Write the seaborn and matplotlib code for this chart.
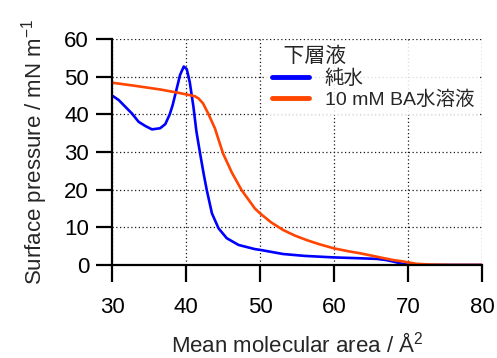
import pandas as pd
import numpy as np
import matplotlib.pyplot as plt
import seaborn as sns

water_area = [30.0, 30.9, 31.8, 32.7, 33.6, 34.5, 35.4, 36.5, 37.2, 37.8, 38.2, 38.7,
              39.2, 39.7, 40.1, 40.5, 41.0, 41.4, 41.9, 42.4, 42.8, 43.5, 44.4, 45.5,
              47.1, 49.3, 50.0, 53.1, 56.0, 59.9, 63.0, 65.8, 67.0, 68.0, 69.0, 69.8,
              71.0, 80.0]
water_pi = [45.0, 43.8, 42.0, 40.2, 38.0, 36.9, 36.0, 36.3, 37.4, 40.0, 42.5, 46.5,
            50.5, 52.7, 52.0, 48.6, 42.0, 35.5, 29.6, 24.0, 19.9, 13.7, 9.7, 7.1,
            5.3, 4.2, 4.0, 2.9, 2.4, 2.0, 1.8, 1.6, 1.3, 0.9, 0.4, 0.1,
            0.0, 0.0]

ba_area = [30.0, 33.0, 36.5, 39.0, 40.5, 41.2, 41.7, 42.3, 43.0, 43.9, 45.0, 46.2,
           47.5, 49.3, 50.0, 51.5, 53.1, 54.7, 56.3, 58.0, 60.0, 62.0, 63.5, 65.0,
           66.7, 68.0, 69.4, 71.1, 73.0, 76.0, 80.0]
ba_pi = [48.4, 47.6, 46.6, 45.7, 45.1, 44.8, 44.2, 42.9, 40.2, 36.3, 29.6, 24.5,
         19.9, 15.0, 13.7, 11.3, 9.3, 7.8, 6.6, 5.5, 4.4, 3.6, 3.1, 2.5,
         1.8, 1.3, 0.9, 0.3, 0.1, 0.0, 0.0]

series_names = ['純水', '10 mM BA水溶液']
series_colors = ['#0000ff', '#ff4500']

df = pd.concat([
    pd.DataFrame({'area': water_area, 'pi': water_pi, 'subphase': series_names[0]}),
    pd.DataFrame({'area': ba_area, 'pi': ba_pi, 'subphase': series_names[1]}),
])

# --- style ---
sns.set_style('white')
plt.rcParams['font.family'] = ['Liberation Sans', 'Noto Sans CJK JP', 'DejaVu Sans']
plt.rcParams['mathtext.fontset'] = 'custom'
plt.rcParams['mathtext.rm'] = 'Liberation Sans'
plt.rcParams['mathtext.it'] = 'Liberation Sans'

fig = plt.figure(figsize=(4.97, 3.58), dpi=100)
ax = fig.add_axes([0.2254, 0.26, 0.7445, 0.631])

sns.lineplot(data=df, x='area', y='pi', hue='subphase', hue_order=series_names,
             palette=series_colors, linewidth=1.9, sort=False, estimator=None, ax=ax)

ax.set_xlim(30, 80)
ax.set_ylim(0, 60)
ax.set_xticks(range(30, 81, 10))
ax.set_yticks(range(0, 61, 10))
ax.grid(True, color='0.1', linestyle=(0, (1, 2)), linewidth=0.9)
ax.set_axisbelow(True)

for side in ['top', 'right']:
    ax.spines[side].set_visible(False)
for side in ['left', 'bottom']:
    ax.spines[side].set_linewidth(1.6)
    ax.spines[side].set_color('black')

ax.tick_params(axis='x', bottom=True, direction='out', length=12, width=1.6, pad=11,
               labelsize=16, colors='black')
ax.tick_params(axis='y', left=True, direction='out', length=11.5, width=1.6, pad=5,
               labelsize=16, colors='black')

ax.set_xlabel('Mean molecular area / Å$^{2}$', fontsize=16, labelpad=11)
ax.set_ylabel('Surface pressure / mN m$^{-1}$', fontsize=16, labelpad=10)

leg = ax.legend(title='  下層液', loc='upper right', bbox_to_anchor=(1.0, 1.0),
                fontsize=14, title_fontsize=15, frameon=True, framealpha=0.85,
                facecolor='white', edgecolor='none', handlelength=1.9,
                borderaxespad=0.1, borderpad=0.3, labelspacing=0.15, alignment='left')
for line in leg.get_lines():
    line.set_linewidth(3.5)

fig.savefig('out.png', dpi=100)
